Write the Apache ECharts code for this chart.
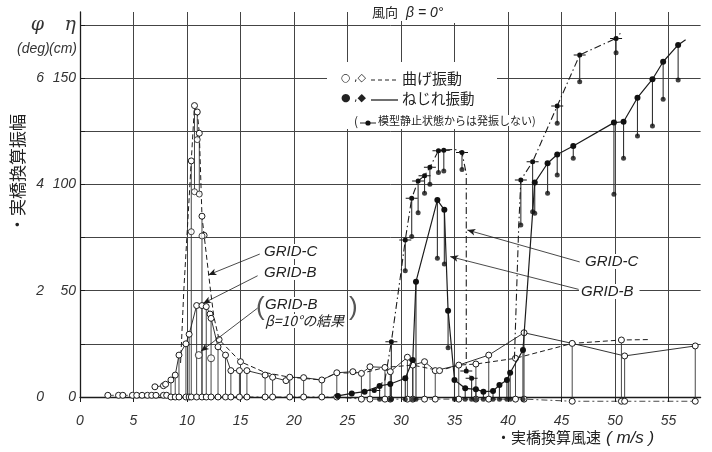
<!DOCTYPE html>
<html><head><meta charset="utf-8">
<script src="https://cdn.jsdelivr.net/npm/echarts@6/dist/echarts.min.js"></script>
<style>html,body{margin:0;padding:0;background:#fff}#c{width:712px;height:452px}</style>
</head><body><div id="c"></div>
<script>
// ---- data (x: 実橋換算風速 m/s, y: 振幅 cm) ----
const xTickLabels = [0,5,10,15,20,25,30,35,40,45,50,55];
const cmTickLabels = [0,50,100,150];
const degTickLabels = [0,2,4,6];

// 曲げ振動 GRID-B (solid, open circles)
const bendBX = [7.0,7.8,8.0,8.5,8.9,9.25,9.9,10.2,10.9,11.4,11.8,12.15,12.25,12.9,13.6,14.1,14.9,15.6,17.3,18.0,19.25,19.6,20.9,22.6,24.0,25.5,26.3,27.1,28.5,29.0,30.6,31.1,32.2,33.2,35.4,38.2,41.5,46.0,50.9,57.5];
const bendBY = [4.8,5.3,6.0,8.0,10.3,19.7,25.0,29.5,43.0,43.0,42.5,39.0,37.0,23.6,19.7,12.4,12.4,12.4,10.3,9.3,7.7,9.3,9.1,8.0,11.4,11.9,11.1,14.2,13.9,11.9,18.7,15.0,16.6,12.4,15.0,19.7,30.2,25.2,19.3,24.0];

// 曲げ振動 GRID-C (dashed, open circles)
const bendCX = [9.4,9.7,10.4,10.7,10.96,11.15,11.4,11.6,12.2,12.5,13.0,15.0,17.3,19.6,22.6,24.0,26.3,28.5,31.1,33.6,35.4,37.0,40.7,46.0,50.6,53.2];
const bendCY = [16,50,111,137,134,124,85,76,50,38,27,16.6,11.5,9.3,8.0,11.4,11.1,13.9,15.0,12.4,15.0,15.5,18.2,25.2,26.8,27.0];
const bendCMark = [0,0,1,1,1,1,1,1,0,0,1,1,0,0,0,0,0,0,0,1,0,1,1,0,1,0];

// 曲げ振動 lower ends at the peak
const bendLowX = [10.4,10.7,10.96,11.15,11.4];
const bendLowY = [77.7,96.5,121,95.4,75.7];

// GRID-B β=10°
const beta10X = [11.1,12.25];
const beta10Y = [19.7,18.2];

// bottom row (minimum amplitude)
const bottomX = [2.6,3.6,4.0,4.9,5.3,5.8,6.3,6.7,7.1,7.8,8.1,8.5,8.9,9.25,9.9,10.2,10.4,10.9,11.4,11.8,12.25,12.9,13.6,14.1,14.9,15.6,17.3,18.0,19.6,20.9,22.6,24.0,26.3,27.1,28.5,29.0,30.6,31.1,32.2,33.2,35.4,37.0,38.2,40.7,41.5,46.0,50.6,50.9,57.5];
const bottomY = [0.8,0.8,0.8,0.8,0.8,0.8,0.8,0.8,0.8,0.8,0.8,0,0,0,0,0,0,0,0,0,0,0,0,0,0,0,0,0,0,0,0,0,-1,-1,-1,-1,-1,-1,-1,-1,-1,-1,-1,-1,-1,-2,-2,-2,-2];

// bending amplitude bars
const bendBarX = [8.5,8.9,9.25,9.9,10.2,10.9,11.4,11.8,12.25,12.9,13.6,14.1,14.9,15.6,17.3,18.0,19.6,20.9,22.6,24.0,26.3,27.1,28.5,29.0,30.6,31.1,32.2,33.2,35.4,37.0,38.2,40.7,41.5,46.0,50.6,50.9,57.5,10.4,10.7,10.96,11.15,11.4,10.4,11.4];
const bendBarTop = [8,10.3,19.7,25,29.5,43,43,42.5,37,23.6,19.7,12.4,12.4,12.4,10.3,9.3,9.3,9.1,8,11.4,11.1,14.2,13.9,11.9,18.7,15,16.6,12.4,15,15.5,19.7,18.2,30.2,25.2,26.8,19.3,24,111,137,134,124,85,77.7,75.7];
const bendBarBot = [0,0,0,0,0,0,0,0,0,0,0,0,0,0,0,0,0,0,0,0,-1,-1,-1,-1,-1,-1,-1,-1,-1,-1,-1,-1,-1,-2,-2,-2,-2,77.7,96.5,121,95.4,75.7,0,0];

// ねじれ振動 GRID-B (solid, filled)
const torsBX = [24.1,25.4,26.6,28.0,29.0,30.4,31.1,31.4,33.4,34.05,34.4,35.0,36.0,37.0,37.7,38.6,39.2,39.9,40.2,41.4,42.5,43.7,44.6,46.1,49.9,50.8,52.1,53.5,54.5,55.9,56.6];
const torsBY = [0.5,1.7,2.5,5.2,6.1,8.8,17.4,54.2,92.6,88,40.6,8,4.1,3.6,2.5,2.8,5.6,8,11.4,22.1,100.8,109.9,114,118,129,129.4,140.7,149.4,157.6,165.5,168];
const torsBMark = [1,1,1,1,1,1,1,1,1,1,1,1,1,1,1,1,1,1,1,1,1,1,1,1,1,1,1,1,1,1,0];

// ねじれ振動 GRID-C (dash-dot, not self-excited from rest)
const torsC1X = [27.5,28.5,29.1,29.9,30.4,31.0,31.6,32.2,32.7,33.5,34.0,35.0,35.7,36.1,36.1,36.6];
const torsC1Y = [3,8,26,55,73.8,93.4,101.6,104,108,115.8,116,116.5,114.9,105,12.2,8.8];
const torsC1Mark = [1,0,1,0,1,1,1,1,1,1,1,0,1,0,1,1];
const torsC2X = [40.6,41.0,41.2,42.3,44.6,46.7,50.1,50.5];
const torsC2Y = [18,80,102,110.6,136.8,160.8,168.6,171];
const torsC2Mark = [0,0,1,1,1,1,1,0];

// torsion amplitude bars
const torsBarX = [30.4,31.0,31.6,32.2,32.7,33.5,34.0,35.7,29.1,31.4,31.1,30.4,29.0,28.0,33.4,34.05,34.4,35.0,36.0,36.6,37.0,37.7,38.6,39.2,39.9,40.2,41.4,41.2,42.3,44.6,46.7,50.1,42.5,43.7,44.6,46.1,49.9,50.8,52.1,53.5,54.5,55.9];
const torsBarTop = [73.8,93.4,101.6,104,108,115.8,116,114.9,26,54.2,17.4,8.8,6.1,5.2,92.6,88,40.6,8,4.1,8.8,3.6,2.5,2.8,5.6,8,11.4,22.1,102,110.6,136.8,160.8,168.6,100.8,109.9,114,118,129,129.4,140.7,149.4,157.6,165.5];
const torsBarBot = [59.4,75.4,86.6,95.8,100,105.5,106.3,107,-1,-1,-1,-1,-1,-1,65.2,62.5,23.2,-1,-1,-1,-1,-1,-1,-1,-1,-1,-1,80.9,87.1,128.7,148.2,161.9,86.4,95.8,104.4,112.2,95.3,112.2,122.7,127.4,140,149];

// annotation leader lines [fromX, fromY, toX, toY]
const annotFromX = [16.8,16.6,16.6,46.7,46.6];
const annotFromY = [67.2,57.0,41.8,63.5,50.6];
const annotToX = [12.0,11.5,11.3,36.2,34.6];
const annotToY = [57.4,44.0,21.5,78.5,66.0];

// ---- chart ----
const ink = '#1c1c1c';
const openCircle = {color:'#fff', borderColor: ink, borderWidth: 1};
const pathDot = 'path://M0,4.4H4.2V5.6H0Z M9.8,4.4H14V5.6H9.8Z M4,5A3,3,0,1,0,10,5A3,3,0,1,0,4,5Z';
const pts = (xs, ys) => xs.map((x, i) => [x, ys[i]]);
const flagged = (xs, ys, fl) => xs.map((x, i) => fl[i] ? {value:[x, ys[i]]} : {value:[x, ys[i]], symbol:'none'});
function bars(xs, tops, bots, w) {
  return {
    type:'custom', z:1, silent:true, clip:false,
    data: xs.map((x, i) => [x, tops[i], bots[i]]),
    renderItem(params, api) {
      const a = api.coord([api.value(0), api.value(1)]);
      const b = api.coord([api.value(0), api.value(2)]);
      return {type:'line', shape:{x1:a[0], y1:a[1], x2:b[0], y2:b[1]}, style:{stroke:'#333', lineWidth:w}};
    }
  };
}
const axisFont = {fontFamily:'Liberation Sans', fontStyle:'italic', fontSize:14, color:'#333'};
const lblFont = 'italic 15px "Liberation Sans"';
const jp = '"Noto Sans CJK JP"';

const chart = echarts.init(document.getElementById('c'), null, {renderer:'canvas'});
chart.setOption({
  animation:false,
  backgroundColor:'#fff',
  grid:{left:80, right:11.4, top:12, bottom:55},
  xAxis:{
    type:'value', min:0, max:58, interval:5, offset:7,
    axisLine:{lineStyle:{color:ink, width:1.3}},
    axisTick:{show:true, length:5, lineStyle:{color:ink}},
    axisLabel:Object.assign({margin:10, showMaxLabel:false,
      formatter:v => xTickLabels.includes(v) ? String(v) : ''}, axisFont),
    splitLine:{show:true, showMaxLine:false, lineStyle:{color:'#444', width:1}}
  },
  yAxis:[
    {
      type:'value', min:0, max:181, interval:25, position:'left', offset:30,
      axisLine:{show:true, lineStyle:{color:ink, width:1.3}},
      axisTick:{show:true, inside:true, length:5, lineStyle:{color:ink}},
      axisLabel:Object.assign({inside:true, margin:26, align:'right', showMaxLabel:false,
        formatter:v => v === 175 ? '{g|η}' : (cmTickLabels.includes(v) ? String(v) : ''),
        rich:{g:{fontSize:19, fontStyle:'italic', fontFamily:'DejaVu Serif', color:'#333'}}}, axisFont),
      splitLine:{show:true, showMaxLine:false, lineStyle:{color:'#444', width:1}}
    },
    {
      type:'value', min:0, max:181, interval:25, position:'left', offset:30,
      axisLine:{show:false}, axisTick:{show:false}, splitLine:{show:false},
      axisLabel:Object.assign({margin:6, showMaxLabel:false,
        formatter:v => v === 175 ? '{g|φ}' : (cmTickLabels.includes(v) ? String(degTickLabels[cmTickLabels.indexOf(v)]) : ''),
        rich:{g:{fontSize:19, fontStyle:'italic', fontFamily:'DejaVu Serif', color:'#333'}}}, axisFont)
    }
  ],
  series:[
    bars(bendBarX, bendBarTop, bendBarBot, 0.9),
    bars(torsBarX, torsBarTop, torsBarBot, 1.1),
    {type:'line', name:'bottom', data:pts(bottomX, bottomY), clip:false, z:3,
      symbol:'circle', symbolSize:6, itemStyle:openCircle,
      lineStyle:{color:ink, width:0.8, type:[6,3,2,3]}},
    {type:'line', name:'曲げ GRID-B', data:pts(bendBX, bendBY), z:4,
      symbol:'circle', symbolSize:6, itemStyle:openCircle,
      lineStyle:{color:ink, width:0.9},
      markLine:{silent:true, animation:false, symbol:['none','arrow'], symbolSize:[5,8],
        label:{show:false}, lineStyle:{type:'solid', color:ink, width:0.8},
        data: annotFromX.map((x, i) => [{coord:[x, annotFromY[i]]}, {coord:[annotToX[i], annotToY[i]]}])}},
    {type:'line', name:'曲げ GRID-C', data:flagged(bendCX, bendCY, bendCMark), z:4,
      symbol:'circle', symbolSize:6, itemStyle:openCircle,
      lineStyle:{color:ink, width:1, type:[5,3]}},
    {type:'scatter', name:'bend low', data:pts(bendLowX, bendLowY), z:4,
      symbol:'circle', symbolSize:6, itemStyle:openCircle},
    {type:'scatter', name:'beta10', data:pts(beta10X, beta10Y), z:4,
      symbol:'circle', symbolSize:7, itemStyle:openCircle},
    {type:'line', name:'ねじれ GRID-B', data:flagged(torsBX, torsBY, torsBMark), z:5,
      symbol:'circle', symbolSize:6, itemStyle:{color:'#111'},
      lineStyle:{color:ink, width:1.2}},
    {type:'line', name:'ねじれ GRID-C', data:flagged(torsC1X, torsC1Y, torsC1Mark), z:5,
      symbol:pathDot, symbolSize:[12,5], itemStyle:{color:'#111'},
      lineStyle:{color:ink, width:1.1, type:[7,3,1.5,3]}},
    {type:'line', name:'ねじれ GRID-C2', data:flagged(torsC2X, torsC2Y, torsC2Mark), z:5,
      symbol:pathDot, symbolSize:[12,5], itemStyle:{color:'#111'},
      lineStyle:{color:ink, width:1.1, type:[7,3,1.5,3]}},
    {type:'scatter', name:'tors low', data:pts(torsBarX, torsBarBot), clip:false, z:5,
      symbol:'circle', symbolSize:5, itemStyle:{color:'#111'}}
  ],
  graphic:[
    // title
    {type:'text', left:366, top:4, z:60, style:{text:'風向', font:'13px '+jp, fill:'#222',
      backgroundColor:'#fff', padding:[2,4,2,6]}},
    {type:'text', left:402, top:4, z:60, style:{text:'β = 0°', font:'italic 14px "Liberation Sans"', fill:'#222',
      backgroundColor:'#fff', padding:[2,24,3,4]}},
    // axis unit labels
    {type:'text', left:17, top:42, z:60, style:{text:'(deg)', font:'italic 14px "Liberation Sans"', fill:'#333'}},
    {type:'text', left:49, top:42, z:60, style:{text:'(cm)', font:'italic 14px "Liberation Sans"', fill:'#333'}},
    // y axis title
    {type:'text', x:9, y:233, rotation:Math.PI/2, z:60,
      style:{text:'・実橋換算振幅', font:'17px '+jp, fill:'#222'}},
    // x axis title
    {type:'text', left:496, top:430, z:60, style:{text:'・実橋換算風速', font:'15px '+jp, fill:'#222'}},
    {type:'text', left:606, top:430, z:60, style:{text:'( m/s )', font:'italic 17px "Liberation Sans"', fill:'#222'}},
    // legend box
    {type:'rect', shape:{x:327, y:62, width:170, height:67}, style:{fill:'#fff'}, z:50},
    {type:'text', left:341, top:73, z:60, style:{text:'○ ,◇', font:'11px "DejaVu Sans"', fill:'#222'}},
    {type:'line', shape:{x1:371, y1:80, x2:398, y2:80}, z:60, style:{stroke:'#222', lineWidth:1, lineDash:[4,3]}},
    {type:'text', left:402, top:71, z:60, style:{text:'曲げ振動', font:'15px '+jp, fill:'#222'}},
    {type:'text', left:341, top:93, z:60, style:{text:'● ,◆', font:'11px "DejaVu Sans"', fill:'#222'}},
    {type:'line', shape:{x1:371, y1:100, x2:398, y2:100}, z:60, style:{stroke:'#222', lineWidth:1.3}},
    {type:'text', left:402, top:91, z:60, style:{text:'ねじれ振動', font:'14.5px '+jp, fill:'#222'}},
    {type:'text', left:354, top:115, z:60, style:{text:'(', font:'12px '+jp, fill:'#222'}},
    {type:'line', shape:{x1:360, y1:123, x2:376, y2:123}, z:60, style:{stroke:'#222', lineWidth:1}},
    {type:'circle', shape:{cx:368, cy:123, r:2.6}, z:61, style:{fill:'#111'}},
    {type:'text', left:378, top:115, z:60, style:{text:'模型静止状態からは発振しない)', font:'11px '+jp, fill:'#222',
      backgroundColor:'#fff', padding:[0,2,0,0]}},
    // annotations
    {type:'text', left:262, top:244, z:60, style:{text:'GRID-C', font:lblFont, fill:'#222', backgroundColor:'#fff', padding:[0,2]}},
    {type:'text', left:262, top:265, z:60, style:{text:'GRID-B', font:lblFont, fill:'#222', backgroundColor:'#fff', padding:[0,2]}},
    {type:'text', left:256, top:295, z:60, style:{text:'(', font:'26px "Liberation Sans"', fill:'#555'}},
    {type:'text', left:265, top:297, z:60, style:{text:'GRID-B', font:lblFont, fill:'#222', backgroundColor:'#fff'}},
    {type:'text', left:265, top:314, z:60, style:{text:'β=10°の結果', font:'italic 14px '+jp, fill:'#222', backgroundColor:'#fff'}},
    {type:'text', left:349, top:295, z:60, style:{text:')', font:'26px "Liberation Sans"', fill:'#555'}},
    {type:'text', left:583, top:254, z:60, style:{text:'GRID-C', font:lblFont, fill:'#222', backgroundColor:'#fff', padding:[0,2]}},
    {type:'text', left:579, top:284, z:60, style:{text:'GRID-B', font:lblFont, fill:'#222', backgroundColor:'#fff', padding:[0,6,0,2]}}
  ]
});
</script>
</body></html>
